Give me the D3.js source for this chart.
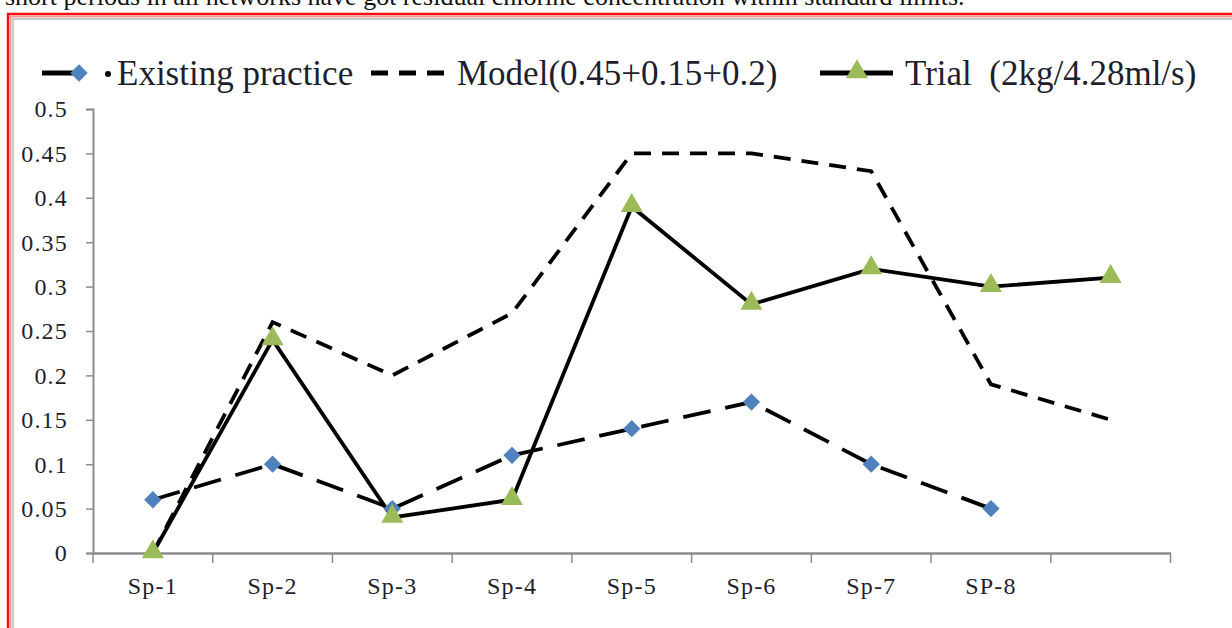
<!DOCTYPE html>
<html><head><meta charset="utf-8">
<script src="https://cdn.jsdelivr.net/npm/d3@7"></script>
<style>html,body{margin:0;padding:0;background:#fff;overflow:hidden}</style>
</head><body>
<svg id="c" width="1232" height="628"></svg>
<script>
const categories = ["Sp-1","Sp-2","Sp-3","Sp-4","Sp-5","Sp-6","Sp-7","SP-8",""];
const existing = [0.06,0.10,0.05,0.11,0.14,0.17,0.10,0.05,null];
const model = [0.0,0.26,0.20,0.27,0.45,0.45,0.43,0.19,0.15];
const trial = [0.0,0.24,0.04,0.06,0.39,0.28,0.32,0.30,0.31];
const yTicks = [0,0.05,0.1,0.15,0.2,0.25,0.3,0.35,0.4,0.45,0.5];
const seriesNames = ["Existing practice","Model(0.45+0.15+0.2)","Trial  (2kg/4.28ml/s)"];
const topText = "short periods in all networks have got residual chlorine concentration within standard limits.";

const svg = d3.select("#c");
const font = "Liberation Serif, DejaVu Serif, serif";
const textCol = "#1e1e2e";

// cut-off top text
svg.append("text").attr("x",5).attr("y",5).attr("font-family",font).attr("font-size",26)
  .attr("fill","#111").text(topText);

// frame
svg.append("rect").attr("x",8).attr("y",14).attr("width",1240).attr("height",640)
  .attr("fill","none").attr("stroke","#ff1010").attr("stroke-width",2.5);
svg.append("rect").attr("x",10.5).attr("y",16.5).attr("width",1240).attr("height",640)
  .attr("fill","none").attr("stroke","#f59a9a").attr("stroke-width",2);
svg.append("rect").attr("x",13).attr("y",19).attr("width",1240).attr("height",640)
  .attr("fill","none").attr("stroke","#c8cccc").attr("stroke-width",2);

const x = d3.scaleBand().domain(categories.map((d,i)=>i)).range([93,1170.5]);
const y = d3.scaleLinear().domain([0,0.5]).range([553,109]);
const cx = i => x(i) + x.bandwidth()/2;

const axisCol = "#8c8c8c";
// y axis
const ya = svg.append("g").attr("transform","translate(93,0)")
  .call(d3.axisLeft(y).tickValues(yTicks).tickSize(7).tickPadding(18).tickFormat(d=>String(+d.toFixed(2))));
ya.select(".domain").attr("stroke",axisCol).attr("stroke-width",2);
ya.selectAll(".tick line").attr("stroke",axisCol).attr("stroke-width",1.5);
ya.selectAll(".tick text").attr("font-family",font).attr("font-size",24).attr("letter-spacing",1.2)
  .attr("fill",textCol).attr("dy","0.33em");

// x axis
const xa = svg.append("g").attr("transform","translate(0,553)")
  .call(d3.axisBottom(x).tickSize(0).tickFormat(i=>categories[i]).tickPadding(24));
xa.select(".domain").attr("stroke",axisCol).attr("stroke-width",2.5);
xa.selectAll(".tick text").attr("font-family",font).attr("font-size",24).attr("letter-spacing",1.2).attr("fill",textCol);
// boundary ticks
const bounds = categories.map((d,i)=>x(i)).concat([x(categories.length-1)+x.bandwidth()]);
svg.append("g").selectAll("line").data(bounds).join("line")
  .attr("x1",d=>d).attr("x2",d=>d).attr("y1",553).attr("y2",563)
  .attr("stroke",axisCol).attr("stroke-width",1.5);

const line = d3.line().defined(d=>d[1]!=null).x(d=>cx(d[0])).y(d=>y(d[1]));
const pts = arr => arr.map((v,i)=>[i,v]);

// model
svg.append("path").attr("d",line(pts(model))).attr("fill","none").attr("stroke","#000")
  .attr("stroke-width",3.8).attr("stroke-dasharray","17,11");
// existing
svg.append("path").attr("d",line(pts(existing))).attr("fill","none").attr("stroke","#000")
  .attr("stroke-width",3.8).attr("stroke-dasharray","28,15");
// trial
svg.append("path").attr("d",line(pts(trial))).attr("fill","none").attr("stroke","#000")
  .attr("stroke-width",3.8);

const diamond = d3.symbol().type(d3.symbolSquare).size(150);
const blue = "#4f81bd", green = "#9bbb59";
svg.append("g").selectAll("path").data(pts(existing).filter(d=>d[1]!=null)).join("path")
  .attr("d",diamond()).attr("fill",blue)
  .attr("transform",d=>`translate(${cx(d[0])},${y(d[1])}) rotate(45)`);
const tri = d3.symbol().type(d3.symbolTriangle).size(210);
svg.append("g").selectAll("path").data(pts(trial)).join("path")
  .attr("d",tri()).attr("fill",green)
  .attr("transform",d=>`translate(${cx(d[0])},${y(d[1])-1})`);

// legend
const ly = 73, lfs = 35;
const lg = svg.append("g");
lg.append("line").attr("x1",42).attr("x2",74).attr("y1",ly).attr("y2",ly).attr("stroke","#000").attr("stroke-width",5);
lg.append("path").attr("d",diamond()).attr("fill",blue).attr("transform",`translate(79,${ly}) rotate(45)`);
lg.append("circle").attr("cx",108).attr("cy",ly+1).attr("r",3).attr("fill","#000");
lg.append("text").attr("x",117).attr("y",ly+12).attr("font-family",font).attr("font-size",lfs).attr("fill",textCol).text(seriesNames[0]);
lg.append("line").attr("x1",371).attr("x2",452).attr("y1",ly).attr("y2",ly).attr("stroke","#000").attr("stroke-width",5).attr("stroke-dasharray","17,11");
lg.append("text").attr("x",457).attr("y",ly+12).attr("font-family",font).attr("font-size",lfs).attr("fill",textCol).text(seriesNames[1]);
lg.append("line").attr("x1",820).attr("x2",893).attr("y1",ly).attr("y2",ly).attr("stroke","#000").attr("stroke-width",5);
lg.append("path").attr("d",tri()).attr("fill",green).attr("transform",`translate(857,${ly-1})`);
lg.append("text").attr("x",905).attr("y",ly+12).attr("font-family",font).attr("font-size",lfs).attr("fill",textCol)
  .attr("xml:space","preserve").style("white-space","pre").text(seriesNames[2]);
</script>
</body></html>
